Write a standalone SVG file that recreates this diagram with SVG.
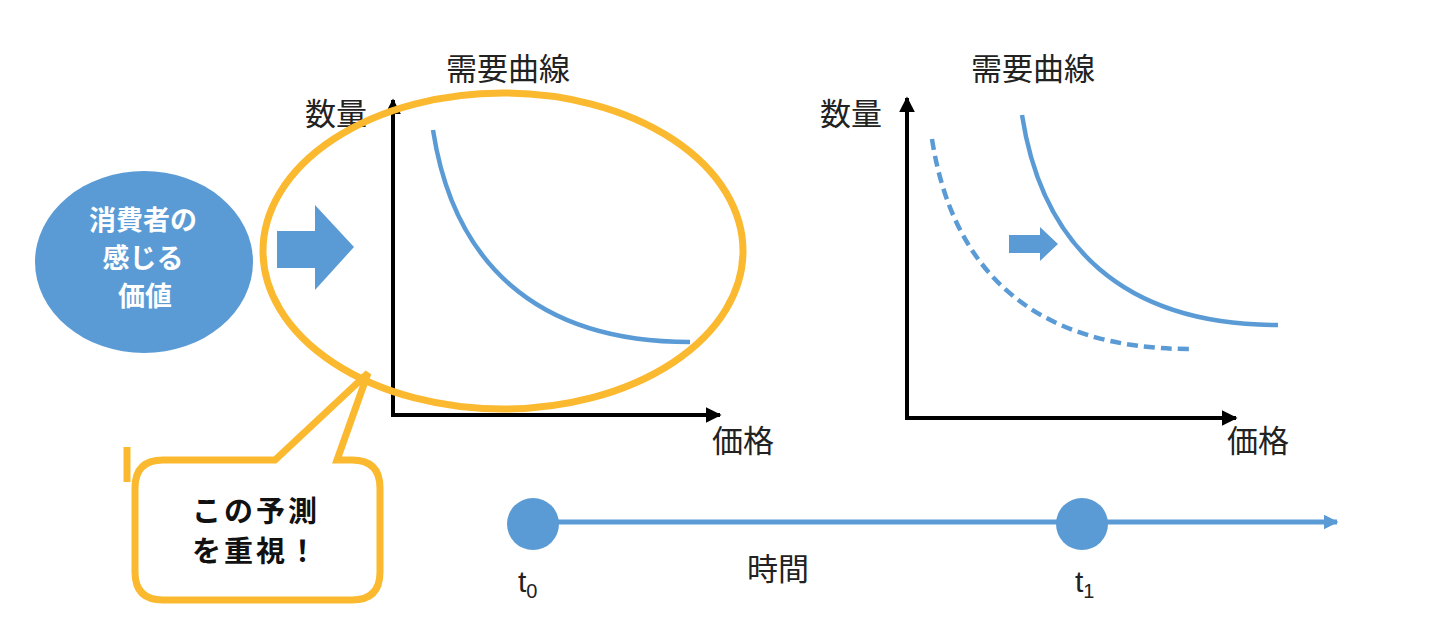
<svg xmlns="http://www.w3.org/2000/svg" width="1440" height="636" viewBox="0 0 1440 636">
<defs>
<style>
.lbl{font-family:"Noto Sans CJK JP","Noto Sans",sans-serif;font-size:31px;fill:#222;}
.wt{font-family:"Noto Sans CJK JP",sans-serif;font-size:27px;font-weight:bold;fill:#fff;}
.bk{font-family:"Noto Sans CJK JP",sans-serif;font-size:29px;font-weight:bold;fill:#111;letter-spacing:3px;}
.tt{font-family:"Liberation Sans","Noto Sans",sans-serif;font-size:30px;fill:#222;}
.ax{stroke:#000;stroke-width:4;fill:none;}
.cv{stroke:#5B9BD5;stroke-width:4.5;fill:none;}
.dash{stroke-dasharray:11 6;}
.blue{fill:#5B9BD5;}
.org{stroke:#FBB92F;stroke-width:7;fill:none;}
</style>
<marker id="ah" viewBox="0 0 10 10" refX="9" refY="5" markerWidth="16" markerHeight="16" markerUnits="userSpaceOnUse" orient="auto"><path d="M0,0 L10,5 L0,10 Z" fill="#000"/></marker>
<marker id="bh" viewBox="0 0 10 10" refX="9" refY="5" markerWidth="15" markerHeight="15" markerUnits="userSpaceOnUse" orient="auto"><path d="M0,0 L10,5 L0,10 Z" fill="#5B9BD5"/></marker>
</defs>
<rect width="1440" height="636" fill="#fff"/>

<g id="value">
<ellipse cx="144" cy="262" rx="109" ry="91" class="blue"/>
<text class="wt" x="143" y="230" text-anchor="middle">消費者の</text>
<text class="wt" x="143" y="268" text-anchor="middle">感じる</text>
<text class="wt" x="145" y="306" text-anchor="middle">価値</text>
</g>

<g id="arrow-big">
<path d="M277,231 L315,231 L315,205 L354,247 L315,290 L315,268 L277,268 Z" class="blue"/>
</g>

<g id="chart-left">
<text class="lbl" x="508" y="80" text-anchor="middle">需要曲線</text>
<text class="lbl" x="305" y="125">数量</text>
<text class="lbl" x="712" y="452">価格</text>
<line x1="393" y1="417" x2="393" y2="100" class="ax" marker-end="url(#ah)"/>
<line x1="391" y1="415" x2="720" y2="415" class="ax" marker-end="url(#ah)"/>
<path d="M433,130 C453,260 533,342 690,342" class="cv"/>
</g>

<g id="highlight">
<ellipse cx="503" cy="251" rx="240" ry="158" class="org"/>
</g>

<g id="callout">
<line x1="127" y1="447" x2="127" y2="482" class="org"/>
<path d="M163,460 L275,460 L368,373 L337,460 L352,460 Q380,460 380,488 L380,572 Q380,600 352,600 L163,600 Q135,600 135,572 L135,488 Q135,460 163,460 Z" class="org" style="fill:#fff"/>
<text class="bk" x="256" y="522" text-anchor="middle">この予測</text>
<text class="bk" x="256" y="562" text-anchor="middle">を重視！</text>
</g>

<g id="chart-right">
<text class="lbl" x="1033" y="80" text-anchor="middle">需要曲線</text>
<text class="lbl" x="820" y="125">数量</text>
<text class="lbl" x="1227" y="452">価格</text>
<line x1="907" y1="420" x2="907" y2="98" class="ax" marker-end="url(#ah)"/>
<line x1="905" y1="418" x2="1236" y2="418" class="ax" marker-end="url(#ah)"/>
<path d="M932,139 C952,269 1032,349 1190,349" class="cv dash"/>
<path d="M1022,115 C1042,245 1122,325 1278,325" class="cv"/>
<path d="M1009,235 L1040,235 L1040,227 L1058,244 L1040,261 L1040,253 L1009,253 Z" class="blue"/>
</g>

<g id="connectors">
<line x1="533" y1="522" x2="1337" y2="522" stroke="#5B9BD5" stroke-width="5" marker-end="url(#bh)"/>
</g>

<g id="t0">
<circle cx="533" cy="524" r="26" class="blue"/>
<text class="tt" x="518" y="592">t<tspan font-size="20" dy="6">0</tspan></text>
</g>
<g id="t1">
<circle cx="1082" cy="524" r="26" class="blue"/>
<text class="tt" x="1075" y="592">t<tspan font-size="20" dy="6">1</tspan></text>
</g>
<g id="time-label">
<text class="lbl" x="778" y="580" text-anchor="middle">時間</text>
</g>
</svg>
